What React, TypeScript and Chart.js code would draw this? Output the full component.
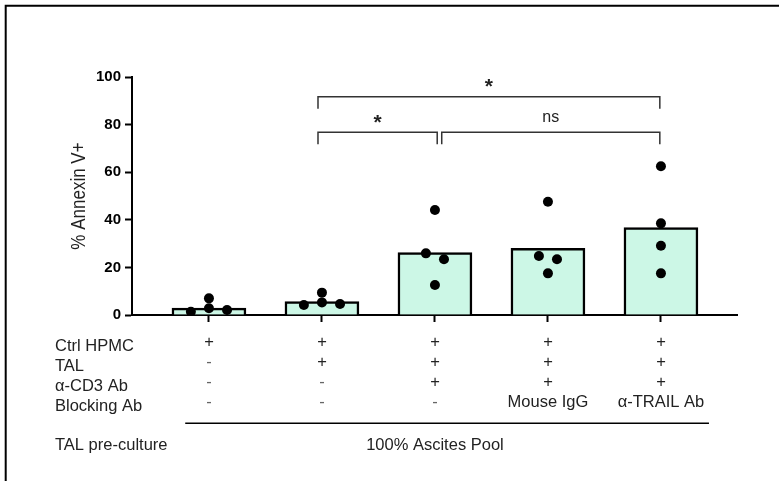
import React, { useEffect, useRef } from 'react';
import { Chart, registerables } from 'chart.js';

Chart.register(...registerables);

const categories = ['Ctrl', 'TAL', 'TAL+CD3', 'TAL+CD3+IgG', 'TAL+CD3+TRAIL'];
const barValues = [2.9, 5.6, 26.2, 28.0, 36.7];
const pointValues = [
  [1.4, 7.0, 2.8, 2.1],
  [4.2, 9.4, 5.3, 4.6],
  [44.1, 25.9, 23.4, 12.6],
  [47.6, 24.8, 23.4, 17.5],
  [62.5, 38.5, 29.1, 17.5],
];
const pointOffsets = [
  [-0.16, 0, 0, 0.16],
  [-0.16, 0, 0, 0.16],
  [0, -0.08, 0.08, 0],
  [0, -0.08, 0.08, 0],
  [0, 0, 0, 0],
];
const yMin = 0;
const yMax = 100;
const yStep = 20;
const yTitle = '% Annexin V+';
const rowLabels = ['Ctrl HPMC', 'TAL', 'α-CD3 Ab', 'Blocking Ab'];
const rowValues = [
  ['+', '+', '+', '+', '+'],
  ['-', '+', '+', '+', '+'],
  ['-', '-', '+', '+', '+'],
  ['-', '-', '-', 'Mouse IgG', 'α-TRAIL Ab'],
];
const footLabel = 'TAL pre-culture';
const footValue = '100% Ascites Pool';
const footCategory = 2;
const bracketFrom = [0.965, 0.965, 2.06];
const bracketTo = [3.99, 2.02, 3.99];
const bracketLevel = [91.7, 76.8, 76.8];
const bracketLabel = ['*', '*', 'ns'];

const FONT = '"Liberation Sans", Arial, sans-serif';

const overlay = {
  id: 'overlay',
  afterDraw(chart: any) {
    const ctx = chart.ctx as CanvasRenderingContext2D;
    const xs = chart.scales.x;
    const ys = chart.scales.y;
    ctx.save();
    // frame
    ctx.strokeStyle = '#000';
    ctx.lineWidth = 2;
    ctx.beginPath();
    ctx.moveTo(5.7, chart.height);
    ctx.lineTo(5.7, 5.7);
    ctx.lineTo(chart.width, 5.7);
    ctx.stroke();

    // y title
    ctx.save();
    ctx.translate(80, 196);
    ctx.rotate(-Math.PI / 2);
    ctx.scale(1, 1.15);
    ctx.fillStyle = '#222';
    ctx.font = `17px ${FONT}`;
    ctx.textAlign = 'center';
    ctx.textBaseline = 'middle';
    ctx.fillText(yTitle, 0, 0);
    ctx.restore();

    // brackets
    ctx.strokeStyle = '#333';
    ctx.lineWidth = 1.5;
    for (let i = 0; i < bracketFrom.length; i++) {
      const x1 = xs.getPixelForValue(bracketFrom[i]);
      const x2 = xs.getPixelForValue(bracketTo[i]);
      const y = ys.getPixelForValue(bracketLevel[i]);
      ctx.beginPath();
      ctx.moveTo(x1, y + 12);
      ctx.lineTo(x1, y);
      ctx.lineTo(x2, y);
      ctx.lineTo(x2, y + 12);
      ctx.stroke();
      const lab = bracketLabel[i];
      ctx.fillStyle = '#222';
      ctx.font = lab === '*' ? `bold 21px ${FONT}` : `16px ${FONT}`;
      ctx.textAlign = 'center';
      ctx.textBaseline = 'alphabetic';
      const m = ctx.measureText(lab);
      const cy = y - (lab === '*' ? 13.4 : 15);
      const base = cy + (m.actualBoundingBoxAscent - m.actualBoundingBoxDescent) / 2;
      ctx.fillText(lab, (x1 + x2) / 2, base);
    }

    // table
    ctx.font = `16.5px ${FONT}`;
    ctx.textBaseline = 'alphabetic';
    for (let r = 0; r < rowLabels.length; r++) {
      ctx.fillStyle = '#222';
      ctx.textAlign = 'left';
      ctx.fillText(rowLabels[r], 55, 350.8 + r * 20);
      ctx.textAlign = 'center';
      for (let c = 0; c < rowValues[r].length; c++) {
        const t = rowValues[r][c];
        ctx.fillStyle = t === '-' ? '#666' : '#222';
        ctx.fillText(t, xs.getPixelForValue(c), 346.5 + r * 20.2);
      }
    }
    ctx.fillStyle = '#222';
    ctx.strokeStyle = '#000';
    ctx.lineWidth = 1.5;
    ctx.beginPath();
    ctx.moveTo(xs.getPixelForValue(-0.21), 423.3);
    ctx.lineTo(xs.getPixelForValue(4.425), 423.3);
    ctx.stroke();
    ctx.textAlign = 'left';
    ctx.fillText(footLabel, 55, 450);
    ctx.textAlign = 'center';
    ctx.fillText(footValue, xs.getPixelForValue(footCategory), 450);
    ctx.restore();
  },
};

export default function App() {
  const ref = useRef<HTMLCanvasElement>(null);
  useEffect(() => {
    const canvas = ref.current;
    if (!canvas) return;
    const barData = barValues.map((v, i) => ({ x: i, y: v }));
    const pts: { x: number; y: number }[] = [];
    pointValues.forEach((arr, i) =>
      arr.forEach((v, j) => pts.push({ x: i + pointOffsets[i][j], y: v }))
    );
    const chart = new Chart(canvas, {
      type: 'bar',
      data: {
        datasets: [
          {
            type: 'scatter',
            label: 'points',
            data: pts,
            backgroundColor: '#000',
            borderColor: '#000',
            borderWidth: 0,
            pointRadius: 5,
            order: 0,
          } as any,
          {
            type: 'bar',
            label: 'mean',
            data: barData,
            backgroundColor: '#ccf7e6',
            borderColor: '#000',
            borderWidth: 2.5,
            barThickness: 74,
            order: 1,
          } as any,
        ],
      },
      plugins: [overlay],
      options: {
        animation: false,
        responsive: false,
        devicePixelRatio: 1,
        layout: { padding: { left: 0, right: 42, top: 77, bottom: 0 } },
        plugins: { legend: { display: false }, tooltip: { enabled: false } },
        scales: {
          x: {
            type: 'linear',
            offset: false,
            min: -0.681,
            max: 4.673,
            afterBuildTicks: (s: any) => {
              s.ticks = categories.map((_, i) => ({ value: i }));
            },
            afterFit: (s: any) => {
              s.height = 166;
            },
            grid: {
              offset: false,
              drawOnChartArea: false,
              drawTicks: true,
              tickLength: 7,
              tickWidth: 2,
              tickColor: '#000',
            },
            border: { display: true, color: '#000', width: 2 },
            ticks: { display: false },
          },
          y: {
            type: 'linear',
            min: yMin,
            max: yMax,
            afterFit: (s: any) => {
              s.width = 132;
            },
            grid: {
              drawOnChartArea: false,
              drawTicks: true,
              tickLength: 7,
              tickWidth: 2,
              tickColor: '#000',
            },
            border: { display: true, color: '#000', width: 2 },
            ticks: {
              stepSize: yStep,
              padding: 4,
              color: '#000',
              font: { family: FONT, size: 15, weight: 'bold' },
            },
          },
        },
      } as any,
    });
    return () => chart.destroy();
  }, []);
  return (
    <div style={{ position: 'fixed', left: 0, top: 0, width: 779, height: 481, background: '#fff' }}>
      <canvas ref={ref} width={779} height={481} />
    </div>
  );
}
